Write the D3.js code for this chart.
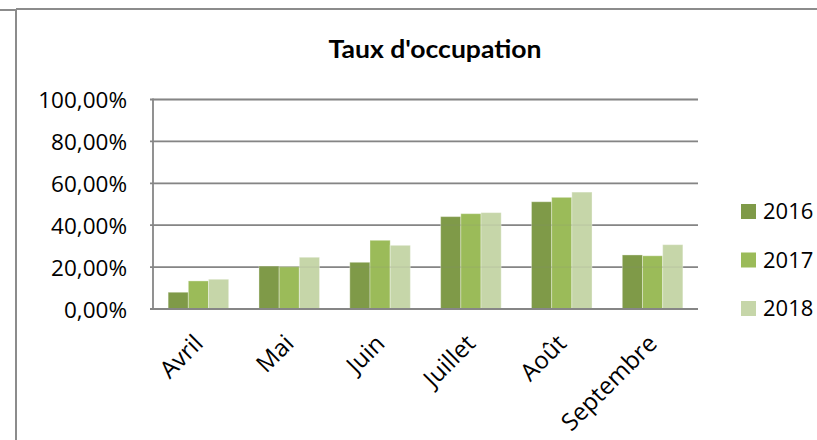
<!DOCTYPE html>
<html><head><meta charset="utf-8">
<script src="https://cdn.jsdelivr.net/npm/d3@7"></script>
<style>html,body{margin:0;padding:0;background:#fff;}svg{display:block;}</style>
</head><body>
<svg id="c" width="817" height="440"></svg>
<script>
const categories = ["Avril","Mai","Juin","Juillet","Août","Septembre"];
const seriesNames = ["2016","2017","2018"];
const values2016 = [0.080,0.205,0.223,0.441,0.512,0.258];
const values2017 = [0.134,0.202,0.328,0.455,0.533,0.254];
const values2018 = [0.142,0.247,0.304,0.460,0.558,0.307];
const yTicks = [0,0.2,0.4,0.6,0.8,1.0];
const colors = ["#7f9a48","#9bbb59","#c6d6a9"];
const title = "Taux d'occupation";

const series = [values2016, values2017, values2018];
const svg = d3.select("#c");
const W=817,H=440;
const m = {left:153,right:698,top:99.5,bottom:309};

// outer frame
svg.append("line").attr("x1",0).attr("x2",17).attr("y1",10).attr("y2",10).attr("stroke","#8c8c8c").attr("stroke-width",2);
svg.append("line").attr("x1",16).attr("x2",W).attr("y1",9).attr("y2",9).attr("stroke","#8c8c8c").attr("stroke-width",2);
svg.append("line").attr("x1",16).attr("x2",16).attr("y1",9).attr("y2",H).attr("stroke","#8c8c8c").attr("stroke-width",2);

// gap width 150% : category band = 3 bars + 1.5 bar gap
const xc = d3.scaleBand().domain(categories).range([m.left,m.right]).padding(0);
const barW = xc.bandwidth()/4.5;
const x1 = d3.scaleBand().domain(seriesNames).range([0,barW*3]);
const y = d3.scaleLinear().domain([0,1]).range([m.bottom,m.top]);

// gridlines
svg.append("g").selectAll("line").data(yTicks.filter(t=>t>0)).join("line")
  .attr("x1",m.left-3).attr("x2",m.right).attr("y1",d=>y(d)).attr("y2",d=>y(d))
  .attr("stroke","#868686").attr("stroke-width",1.8);

// bars
const gBars = svg.append("g");
seriesNames.forEach((s,si)=>{
  gBars.selectAll(".b"+si).data(categories).join("rect")
    .attr("x",c=>xc(c)+barW*0.75+x1(s))
    .attr("y",(c,i)=>y(series[si][i]))
    .attr("width",x1.bandwidth())
    .attr("height",(c,i)=>y(0)-y(series[si][i]))
    .attr("fill",colors[si])
    .attr("stroke","rgba(255,255,255,0.35)").attr("stroke-width",1);
});
// faint grid through bars
svg.append("g").selectAll("line").data(yTicks.filter(t=>t>0)).join("line")
  .attr("x1",m.left).attr("x2",m.right).attr("y1",d=>y(d)).attr("y2",d=>y(d))
  .attr("stroke","#868686").attr("stroke-opacity",0.12).attr("stroke-width",1.8);

// axes lines
svg.append("line").attr("x1",m.left).attr("x2",m.left).attr("y1",m.top-1).attr("y2",m.bottom+1).attr("stroke","#868686").attr("stroke-width",1.8);
svg.append("line").attr("x1",m.left-3).attr("x2",m.right).attr("y1",m.bottom).attr("y2",m.bottom).attr("stroke","#868686").attr("stroke-width",1.8);

// y labels
const yAxis = d3.axisLeft(y).tickValues(yTicks).tickSize(0).tickPadding(0)
  .tickFormat(d=>d3.format(".2f")(d*100).replace(".",",")+"%");
const ga = svg.append("g").attr("transform",`translate(${127},0)`).call(yAxis);
ga.select(".domain").remove();
ga.selectAll("text").attr("font-family","'Open Sans'").attr("font-size",22.5).attr("fill","#000").attr("dy","0.36em").attr("x",0);

// x labels
const gx = svg.append("g").attr("transform",`translate(0,${m.bottom})`)
  .call(d3.axisBottom(xc).tickSize(0).tickPadding(0));
gx.select(".domain").remove();
gx.selectAll("text").attr("font-family","'Open Sans'").attr("font-size",24).attr("fill","#000")
  .attr("text-anchor","end").attr("dy",0).attr("y",0)
  .attr("transform","translate(6,36) rotate(-45)");

// title
svg.append("text").attr("x",435).attr("y",58).attr("text-anchor","middle")
  .attr("font-family","Lato").attr("font-weight","bold").attr("font-size",25)
  .attr("textLength",213).attr("lengthAdjust","spacingAndGlyphs")
  .attr("fill","#000").text(title);

// legend
const lg = svg.append("g");
seriesNames.forEach((s,i)=>{
  const cy = 211.5 + i*48.5;
  lg.append("rect").attr("x",741).attr("y",cy-7.5).attr("width",15).attr("height",15).attr("fill",colors[i]);
  lg.append("text").attr("x",763).attr("y",cy).attr("dy","0.36em").attr("font-family","'Open Sans'").attr("font-size",22).attr("fill","#000").text(s);
});
</script>
</body></html>
